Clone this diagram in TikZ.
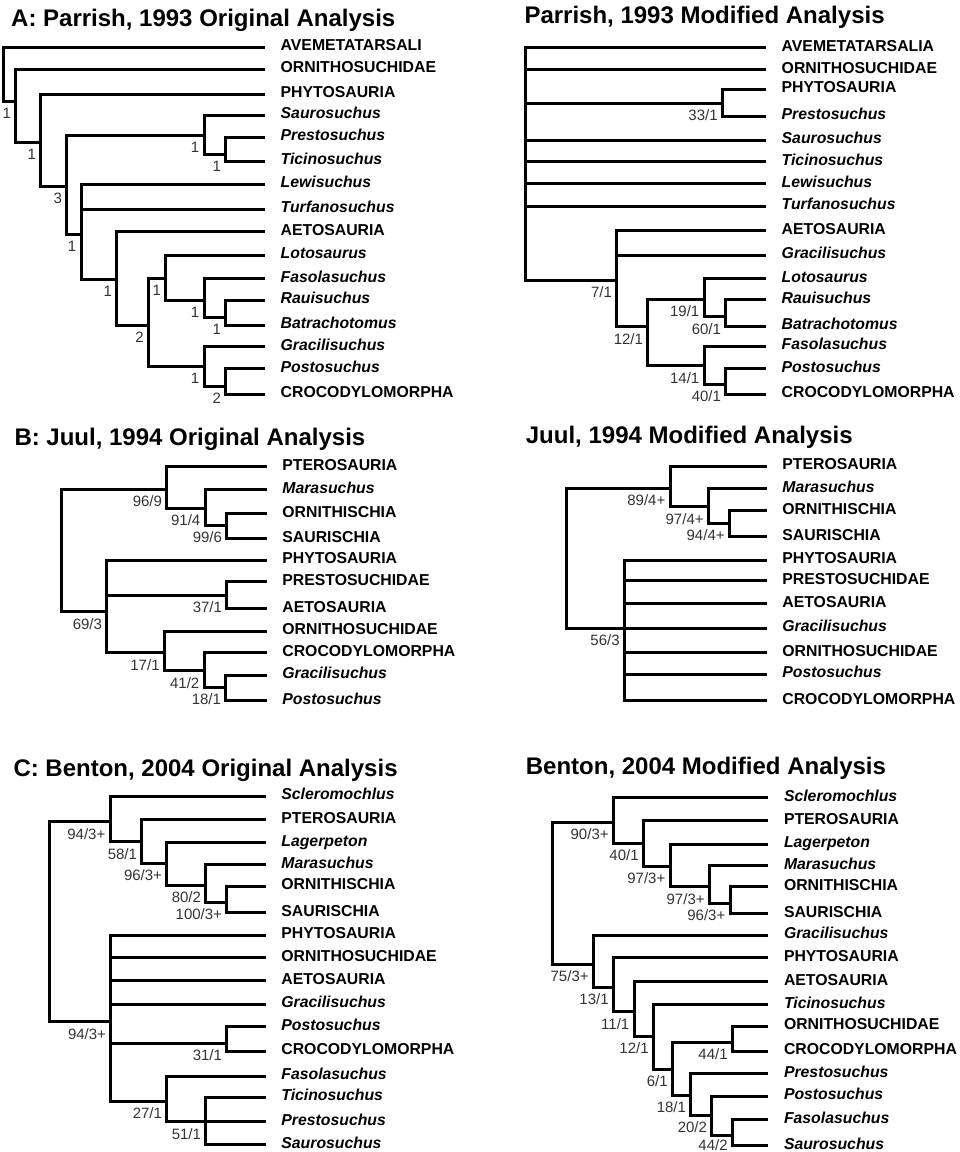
\documentclass[tikz,border=0pt]{standalone}
\usepackage{fontspec}
\setmainfont{Liberation Sans}
\tikzset{
branch/.style={line width=3pt},
clade/.style={anchor=west, inner xsep=15.5pt, inner ysep=0pt, text height=11.3pt, text depth=3.5pt, font=\fontsize{15.8}{18}\selectfont\bfseries},
genus/.style={clade, font=\fontsize{15.8}{18}\selectfont\bfseries\itshape},
supp/.style={anchor=north east, inner sep=0pt, text=black!80, font=\fontsize{15}{17}\selectfont},
heading/.style={anchor=base west, inner sep=0pt, font=\fontsize{24}{26}\selectfont\bfseries},
}
\begin{document}
\begin{tikzpicture}[x=1pt,y=1pt,yscale=-1,xscale=1]
%set diagram left start at 0, and has height of 1152
\useasboundingbox (0,0) rectangle (960,1152);

%Text: headings
\node[heading] (ao-title) at (11,26) {A: Parrish, 1993 Original Analysis};
\node[heading] (am-title) at (524.3,23.3) {Parrish, 1993 Modified Analysis};
\node[heading] (bo-title) at (14.3,445) {B: Juul, 1994 Original Analysis};
\node[heading] (bm-title) at (525.7,443.3) {Juul, 1994 Modified Analysis};
\node[heading] (co-title) at (13.3,776.7) {C: Benton, 2004 Original Analysis};
\node[heading] (cm-title) at (525.7,774) {Benton, 2004 Modified Analysis};

%Tree A original: tips
\node[clade] (ao-1) at (265,47) {AVEMETATARSALI};
\node[clade] (ao-2) at (265,69) {ORNITHOSUCHIDAE};
\node[clade] (ao-3) at (265,94) {PHYTOSAURIA};
\node[genus] (ao-4) at (265,115) {Saurosuchus};
\node[genus] (ao-5) at (265,137) {Prestosuchus};
\node[genus] (ao-6) at (265,161) {Ticinosuchus};
\node[genus] (ao-7) at (265,184) {Lewisuchus};
\node[genus] (ao-8) at (265,209) {Turfanosuchus};
\node[clade] (ao-9) at (265,231.5) {AETOSAURIA};
\node[genus] (ao-10) at (265,255) {Lotosaurus};
\node[genus] (ao-11) at (265,278.5) {Fasolasuchus};
\node[genus] (ao-12) at (265,300) {Rauisuchus};
\node[genus] (ao-13) at (265,325) {Batrachotomus};
\node[genus] (ao-14) at (265,346.5) {Gracilisuchus};
\node[genus] (ao-15) at (265,368.5) {Postosuchus};
\node[clade] (ao-16) at (265,394) {CROCODYLOMORPHA};
%Tree A original: forks
\coordinate (ao-r) at (3,70);
\coordinate (ao-f2) at (15.7,101.7);
\coordinate (ao-f3) at (40.7,142.7);
\coordinate (ao-f4) at (66.7,186.7);
\coordinate (ao-f5) at (204,135.7);
\coordinate (ao-f6) at (225.7,154.3);
\coordinate (ao-f7) at (81,234.3);
\coordinate (ao-f8) at (116.7,279.3);
\coordinate (ao-f9) at (148.3,325);
\coordinate (ao-f10) at (165.7,278.3);
\coordinate (ao-f11) at (204,300);
\coordinate (ao-f12) at (225.7,317.7);
\coordinate (ao-f13) at (204,366);
\coordinate (ao-f14) at (225.7,386.7);
%Tree A original: branches
\draw[branch] (ao-r) |- (ao-1.west) (ao-r) |- (ao-f2);
\draw[branch] (ao-f2) |- (ao-2.west) (ao-f2) |- (ao-f3);
\draw[branch] (ao-f3) |- (ao-3.west) (ao-f3) |- (ao-f4);
\draw[branch] (ao-f4) |- (ao-f5) (ao-f4) |- (ao-f7);
\draw[branch] (ao-f5) |- (ao-4.west) (ao-f5) |- (ao-f6);
\draw[branch] (ao-f6) |- (ao-5.west) (ao-f6) |- (ao-6.west);
\draw[branch] (ao-f7) |- (ao-7.west) (ao-f7) |- (ao-8.west) (ao-f7) |- (ao-f8);
\draw[branch] (ao-f8) |- (ao-9.west) (ao-f8) |- (ao-f9);
\draw[branch] (ao-f9) |- (ao-f10) (ao-f9) |- (ao-f13);
\draw[branch] (ao-f10) |- (ao-10.west) (ao-f10) |- (ao-f11);
\draw[branch] (ao-f11) |- (ao-11.west) (ao-f11) |- (ao-f12);
\draw[branch] (ao-f12) |- (ao-12.west) (ao-f12) |- (ao-13.west);
\draw[branch] (ao-f13) |- (ao-14.west) (ao-f13) |- (ao-f14);
\draw[branch] (ao-f14) |- (ao-15.west) (ao-f14) |- (ao-16.west);
%Tree A original: support values
\node[supp] (ao-s2) at ([shift={(-4.5,6.5)}]ao-f2) {1};
\node[supp] (ao-s3) at ([shift={(-4.5,6.5)}]ao-f3) {1};
\node[supp] (ao-s4) at ([shift={(-4.5,6.5)}]ao-f4) {3};
\node[supp] (ao-s5) at ([shift={(-4.5,6.5)}]ao-f5) {1};
\node[supp] (ao-s6) at ([shift={(-4.5,6.5)}]ao-f6) {1};
\node[supp] (ao-s7) at ([shift={(-4.5,6.5)}]ao-f7) {1};
\node[supp] (ao-s8) at ([shift={(-4.5,6.5)}]ao-f8) {1};
\node[supp] (ao-s9) at ([shift={(-4.5,6.5)}]ao-f9) {2};
\node[supp] (ao-s10) at ([shift={(-4.5,6.5)}]ao-f10) {1};
\node[supp] (ao-s11) at ([shift={(-4.5,6.5)}]ao-f11) {1};
\node[supp] (ao-s12) at ([shift={(-4.5,6.5)}]ao-f12) {1};
\node[supp] (ao-s13) at ([shift={(-4.5,6.5)}]ao-f13) {1};
\node[supp] (ao-s14) at ([shift={(-4.5,6.5)}]ao-f14) {2};

%Tree A modified: tips
\node[clade] (am-1) at (766,47.7) {AVEMETATARSALIA};
\node[clade] (am-2) at (766,69.3) {ORNITHOSUCHIDAE};
\node[clade] (am-3) at (766,89) {PHYTOSAURIA};
\node[genus] (am-4) at (766,116) {Prestosuchus};
\node[genus] (am-5) at (766,140) {Saurosuchus};
\node[genus] (am-6) at (766,161.7) {Ticinosuchus};
\node[genus] (am-7) at (766,183.3) {Lewisuchus};
\node[genus] (am-8) at (766,206) {Turfanosuchus};
\node[clade] (am-9) at (766,230.7) {AETOSAURIA};
\node[genus] (am-10) at (766,255) {Gracilisuchus};
\node[genus] (am-11) at (766,278.3) {Lotosaurus};
\node[genus] (am-12) at (766,299.3) {Rauisuchus};
\node[genus] (am-13) at (766,326) {Batrachotomus};
\node[genus] (am-14) at (766,346) {Fasolasuchus};
\node[genus] (am-15) at (766,368.3) {Postosuchus};
\node[clade] (am-16) at (766,394) {CROCODYLOMORPHA};
%Tree A modified: forks
\coordinate (am-r) at (525.7,160);
\coordinate (am-f1) at (722.3,103.3);
\coordinate (am-f2) at (616.7,280);
\coordinate (am-f3) at (647.7,326.7);
\coordinate (am-f4) at (704,299);
\coordinate (am-f5) at (725.7,316.7);
\coordinate (am-f6) at (704,365.7);
\coordinate (am-f7) at (725.7,384.3);
%Tree A modified: branches
\draw[branch] (am-r) |- (am-1.west) (am-r) |- (am-2.west) (am-r) |- (am-f1) (am-r) |- (am-5.west);
\draw[branch] (am-r) |- (am-6.west) (am-r) |- (am-7.west) (am-r) |- (am-8.west) (am-r) |- (am-f2);
\draw[branch] (am-f1) |- (am-3.west) (am-f1) |- (am-4.west);
\draw[branch] (am-f2) |- (am-9.west) (am-f2) |- (am-10.west) (am-f2) |- (am-f3);
\draw[branch] (am-f3) |- (am-f4) (am-f3) |- (am-f6);
\draw[branch] (am-f4) |- (am-11.west) (am-f4) |- (am-f5);
\draw[branch] (am-f5) |- (am-12.west) (am-f5) |- (am-13.west);
\draw[branch] (am-f6) |- (am-14.west) (am-f6) |- (am-f7);
\draw[branch] (am-f7) |- (am-15.west) (am-f7) |- (am-16.west);
%Tree A modified: support values
\node[supp] (am-s1) at ([shift={(-4.5,6.5)}]am-f1) {33/1};
\node[supp] (am-s2) at ([shift={(-4.5,6.5)}]am-f2) {7/1};
\node[supp] (am-s3) at ([shift={(-4.5,6.5)}]am-f3) {12/1};
\node[supp] (am-s4) at ([shift={(-4.5,6.5)}]am-f4) {19/1};
\node[supp] (am-s5) at ([shift={(-4.5,6.5)}]am-f5) {60/1};
\node[supp] (am-s6) at ([shift={(-4.5,6.5)}]am-f6) {14/1};
\node[supp] (am-s7) at ([shift={(-4.5,6.5)}]am-f7) {40/1};

%Tree B original: tips
\node[clade] (bo-1) at (266.7,466.7) {PTEROSAURIA};
\node[genus] (bo-2) at (266.7,489.3) {Marasuchus};
\node[clade] (bo-3) at (266.7,513.3) {ORNITHISCHIA};
\node[clade] (bo-4) at (266.7,538.3) {SAURISCHIA};
\node[clade] (bo-5) at (266.7,560) {PHYTOSAURIA};
\node[clade] (bo-6) at (266.7,581.7) {PRESTOSUCHIDAE};
\node[clade] (bo-7) at (266.7,608.3) {AETOSAURIA};
\node[clade] (bo-8) at (266.7,631) {ORNITHOSUCHIDAE};
\node[clade] (bo-9) at (266.7,652.7) {CROCODYLOMORPHA};
\node[genus] (bo-10) at (266.7,675) {Gracilisuchus};
\node[genus] (bo-11) at (266.7,700.7) {Postosuchus};
%Tree B original: forks
\coordinate (bo-r) at (61,550);
\coordinate (bo-f1) at (166.7,489.3);
\coordinate (bo-f2) at (205,508.3);
\coordinate (bo-f3) at (226.7,525);
\coordinate (bo-f4) at (106.7,611.7);
\coordinate (bo-f5) at (226.7,595);
\coordinate (bo-f6) at (164.3,652.7);
\coordinate (bo-f7) at (204,670.7);
\coordinate (bo-f8) at (225.7,687.3);
%Tree B original: branches
\draw[branch] (bo-r) |- (bo-f1) (bo-r) |- (bo-f4);
\draw[branch] (bo-f1) |- (bo-1.west) (bo-f1) |- (bo-f2);
\draw[branch] (bo-f2) |- (bo-2.west) (bo-f2) |- (bo-f3);
\draw[branch] (bo-f3) |- (bo-3.west) (bo-f3) |- (bo-4.west);
\draw[branch] (bo-f4) |- (bo-5.west) (bo-f4) |- (bo-f5) (bo-f4) |- (bo-f6);
\draw[branch] (bo-f5) |- (bo-6.west) (bo-f5) |- (bo-7.west);
\draw[branch] (bo-f6) |- (bo-8.west) (bo-f6) |- (bo-f7);
\draw[branch] (bo-f7) |- (bo-9.west) (bo-f7) |- (bo-f8);
\draw[branch] (bo-f8) |- (bo-10.west) (bo-f8) |- (bo-11.west);
%Tree B original: support values
\node[supp] (bo-s1) at ([shift={(-4.5,6.5)}]bo-f1) {96/9};
\node[supp] (bo-s2) at ([shift={(-4.5,6.5)}]bo-f2) {91/4};
\node[supp] (bo-s3) at ([shift={(-4.5,6.5)}]bo-f3) {99/6};
\node[supp] (bo-s4) at ([shift={(-4.5,6.5)}]bo-f4) {69/3};
\node[supp] (bo-s5) at ([shift={(-4.5,6.5)}]bo-f5) {37/1};
\node[supp] (bo-s6) at ([shift={(-4.5,6.5)}]bo-f6) {17/1};
\node[supp] (bo-s7) at ([shift={(-4.5,6.5)}]bo-f7) {41/2};
\node[supp] (bo-s8) at ([shift={(-4.5,6.5)}]bo-f8) {18/1};

%Tree B modified: tips
\node[clade] (bm-1) at (766.7,466) {PTEROSAURIA};
\node[genus] (bm-2) at (766.7,488.3) {Marasuchus};
\node[clade] (bm-3) at (766.7,510.7) {ORNITHISCHIA};
\node[clade] (bm-4) at (766.7,536.7) {SAURISCHIA};
\node[clade] (bm-5) at (766.7,560) {PHYTOSAURIA};
\node[clade] (bm-6) at (766.7,580.7) {PRESTOSUCHIDAE};
\node[clade] (bm-7) at (766.7,603.3) {AETOSAURIA};
\node[genus] (bm-8) at (766.7,628) {Gracilisuchus};
\node[clade] (bm-9) at (766.7,652.7) {ORNITHOSUCHIDAE};
\node[genus] (bm-10) at (766.7,674) {Postosuchus};
\node[clade] (bm-11) at (766.7,700.7) {CROCODYLOMORPHA};
%Tree B modified: forks
\coordinate (bm-r) at (566,560);
\coordinate (bm-f1) at (670,488.3);
\coordinate (bm-f2) at (708.3,506.7);
\coordinate (bm-f3) at (729.3,523.3);
\coordinate (bm-f4) at (624.3,628);
%Tree B modified: branches
\draw[branch] (bm-r) |- (bm-f1) (bm-r) |- (bm-f4);
\draw[branch] (bm-f1) |- (bm-1.west) (bm-f1) |- (bm-f2);
\draw[branch] (bm-f2) |- (bm-2.west) (bm-f2) |- (bm-f3);
\draw[branch] (bm-f3) |- (bm-3.west) (bm-f3) |- (bm-4.west);
\draw[branch] (bm-f4) |- (bm-5.west) (bm-f4) |- (bm-6.west) (bm-f4) |- (bm-7.west) (bm-f4) |- (bm-8.west);
\draw[branch] (bm-f4) |- (bm-9.west) (bm-f4) |- (bm-10.west) (bm-f4) |- (bm-11.west);
%Tree B modified: support values
\node[supp] (bm-s1) at ([shift={(-4.5,6.5)}]bm-f1) {89/4+};
\node[supp] (bm-s2) at ([shift={(-4.5,6.5)}]bm-f2) {97/4+};
\node[supp] (bm-s3) at ([shift={(-4.5,6.5)}]bm-f3) {94/4+};
\node[supp] (bm-s4) at ([shift={(-4.5,6.5)}]bm-f4) {56/3};

%Tree C original: tips
\node[genus] (co-1) at (265.7,796) {Scleromochlus};
\node[clade] (co-2) at (265.7,819.3) {PTEROSAURIA};
\node[genus] (co-3) at (265.7,842.3) {Lagerpeton};
\node[genus] (co-4) at (265.7,864.3) {Marasuchus};
\node[clade] (co-5) at (265.7,886) {ORNITHISCHIA};
\node[clade] (co-6) at (265.7,912.3) {SAURISCHIA};
\node[clade] (co-7) at (265.7,935) {PHYTOSAURIA};
\node[clade] (co-8) at (265.7,957.7) {ORNITHOSUCHIDAE};
\node[clade] (co-9) at (265.7,980.7) {AETOSAURIA};
\node[genus] (co-10) at (265.7,1004) {Gracilisuchus};
\node[genus] (co-11) at (265.7,1026.5) {Postosuchus};
\node[clade] (co-12) at (265.7,1051) {CROCODYLOMORPHA};
\node[genus] (co-13) at (265.7,1076) {Fasolasuchus};
\node[genus] (co-14) at (265.7,1097) {Ticinosuchus};
\node[genus] (co-15) at (265.7,1121.7) {Prestosuchus};
\node[genus] (co-16) at (265.7,1144.3) {Saurosuchus};
%Tree C original: forks
\coordinate (co-r) at (49,920);
\coordinate (co-f1) at (110,821.7);
\coordinate (co-f2) at (141.7,841.7);
\coordinate (co-f3) at (166.7,863.3);
\coordinate (co-f4) at (205.7,885);
\coordinate (co-f5) at (226.7,902.3);
\coordinate (co-f6) at (110.7,1021.7);
\coordinate (co-f7) at (226.7,1043.3);
\coordinate (co-f8) at (166.7,1101);
\coordinate (co-f9) at (205.7,1121.7);
%Tree C original: branches
\draw[branch] (co-r) |- (co-f1) (co-r) |- (co-f6);
\draw[branch] (co-f1) |- (co-1.west) (co-f1) |- (co-f2);
\draw[branch] (co-f2) |- (co-2.west) (co-f2) |- (co-f3);
\draw[branch] (co-f3) |- (co-3.west) (co-f3) |- (co-f4);
\draw[branch] (co-f4) |- (co-4.west) (co-f4) |- (co-f5);
\draw[branch] (co-f5) |- (co-5.west) (co-f5) |- (co-6.west);
\draw[branch] (co-f6) |- (co-7.west) (co-f6) |- (co-8.west) (co-f6) |- (co-9.west) (co-f6) |- (co-10.west);
\draw[branch] (co-f6) |- (co-f7) (co-f6) |- (co-f8);
\draw[branch] (co-f7) |- (co-11.west) (co-f7) |- (co-12.west);
\draw[branch] (co-f8) |- (co-13.west) (co-f8) |- (co-f9);
\draw[branch] (co-f9) |- (co-14.west) (co-f9) |- (co-15.west) (co-f9) |- (co-16.west);
%Tree C original: support values
\node[supp] (co-s1) at ([shift={(-4.5,6.5)}]co-f1) {94/3+};
\node[supp] (co-s2) at ([shift={(-4.5,6.5)}]co-f2) {58/1};
\node[supp] (co-s3) at ([shift={(-4.5,6.5)}]co-f3) {96/3+};
\node[supp] (co-s4) at ([shift={(-4.5,6.5)}]co-f4) {80/2};
\node[supp] (co-s5) at ([shift={(-4.5,6.5)}]co-f5) {100/3+};
\node[supp] (co-s6) at ([shift={(-4.5,6.5)}]co-f6) {94/3+};
\node[supp] (co-s7) at ([shift={(-4.5,6.5)}]co-f7) {31/1};
\node[supp] (co-s8) at ([shift={(-4.5,6.5)}]co-f8) {27/1};
\node[supp] (co-s9) at ([shift={(-4.5,6.5)}]co-f9) {51/1};

%Tree C modified: tips
\node[genus] (cm-1) at (768.3,797.7) {Scleromochlus};
\node[clade] (cm-2) at (768.3,820.7) {PTEROSAURIA};
\node[genus] (cm-3) at (768.3,844) {Lagerpeton};
\node[genus] (cm-4) at (768.3,865.7) {Marasuchus};
\node[clade] (cm-5) at (768.3,886.7) {ORNITHISCHIA};
\node[clade] (cm-6) at (768.3,913.3) {SAURISCHIA};
\node[genus] (cm-7) at (768.3,935) {Gracilisuchus};
\node[clade] (cm-8) at (768.3,957.7) {PHYTOSAURIA};
\node[clade] (cm-9) at (768.3,981.5) {AETOSAURIA};
\node[genus] (cm-10) at (768.3,1004.3) {Ticinosuchus};
\node[clade] (cm-11) at (768.3,1026) {ORNITHOSUCHIDAE};
\node[clade] (cm-12) at (768.3,1051) {CROCODYLOMORPHA};
\node[genus] (cm-13) at (768.3,1073.3) {Prestosuchus};
\node[genus] (cm-14) at (768.3,1096) {Postosuchus};
\node[genus] (cm-15) at (768.3,1119.3) {Fasolasuchus};
\node[genus] (cm-16) at (768.3,1145.7) {Saurosuchus};
%Tree C modified: forks
\coordinate (cm-r) at (552.3,890);
\coordinate (cm-f1) at (613.3,822.3);
\coordinate (cm-f2) at (643.3,843.3);
\coordinate (cm-f3) at (670,866);
\coordinate (cm-f4) at (709.3,886.7);
\coordinate (cm-f5) at (730,903.3);
\coordinate (cm-f6) at (593.3,964);
\coordinate (cm-f7) at (613.3,987.3);
\coordinate (cm-f8) at (634,1011.7);
\coordinate (cm-f9) at (653.3,1036);
\coordinate (cm-f10) at (672.3,1069.3);
\coordinate (cm-f11) at (732.3,1042.3);
\coordinate (cm-f12) at (690.7,1095);
\coordinate (cm-f13) at (711.7,1115);
\coordinate (cm-f14) at (732.3,1135);
%Tree C modified: branches
\draw[branch] (cm-r) |- (cm-f1) (cm-r) |- (cm-f6);
\draw[branch] (cm-f1) |- (cm-1.west) (cm-f1) |- (cm-f2);
\draw[branch] (cm-f2) |- (cm-2.west) (cm-f2) |- (cm-f3);
\draw[branch] (cm-f3) |- (cm-3.west) (cm-f3) |- (cm-f4);
\draw[branch] (cm-f4) |- (cm-4.west) (cm-f4) |- (cm-f5);
\draw[branch] (cm-f5) |- (cm-5.west) (cm-f5) |- (cm-6.west);
\draw[branch] (cm-f6) |- (cm-7.west) (cm-f6) |- (cm-f7);
\draw[branch] (cm-f7) |- (cm-8.west) (cm-f7) |- (cm-f8);
\draw[branch] (cm-f8) |- (cm-9.west) (cm-f8) |- (cm-f9);
\draw[branch] (cm-f9) |- (cm-10.west) (cm-f9) |- (cm-f10);
\draw[branch] (cm-f10) |- (cm-f11) (cm-f10) |- (cm-f12);
\draw[branch] (cm-f11) |- (cm-11.west) (cm-f11) |- (cm-12.west);
\draw[branch] (cm-f12) |- (cm-13.west) (cm-f12) |- (cm-f13);
\draw[branch] (cm-f13) |- (cm-14.west) (cm-f13) |- (cm-f14);
\draw[branch] (cm-f14) |- (cm-15.west) (cm-f14) |- (cm-16.west);
%Tree C modified: support values
\node[supp] (cm-s1) at ([shift={(-4.5,6.5)}]cm-f1) {90/3+};
\node[supp] (cm-s2) at ([shift={(-4.5,6.5)}]cm-f2) {40/1};
\node[supp] (cm-s3) at ([shift={(-4.5,6.5)}]cm-f3) {97/3+};
\node[supp] (cm-s4) at ([shift={(-4.5,6.5)}]cm-f4) {97/3+};
\node[supp] (cm-s5) at ([shift={(-4.5,6.5)}]cm-f5) {96/3+};
\node[supp] (cm-s6) at ([shift={(-4.5,6.5)}]cm-f6) {75/3+};
\node[supp] (cm-s7) at ([shift={(-4.5,6.5)}]cm-f7) {13/1};
\node[supp] (cm-s8) at ([shift={(-4.5,6.5)}]cm-f8) {11/1};
\node[supp] (cm-s9) at ([shift={(-4.5,6.5)}]cm-f9) {12/1};
\node[supp] (cm-s10) at ([shift={(-4.5,6.5)}]cm-f10) {6/1};
\node[supp] (cm-s11) at ([shift={(-4.5,6.5)}]cm-f11) {44/1};
\node[supp] (cm-s12) at ([shift={(-4.5,6.5)}]cm-f12) {18/1};
\node[supp] (cm-s13) at ([shift={(-4.5,6.5)}]cm-f13) {20/2};
\node[supp] (cm-s14) at ([shift={(-4.5,4.8)}]cm-f14) {44/2};

\end{tikzpicture}
\end{document}
